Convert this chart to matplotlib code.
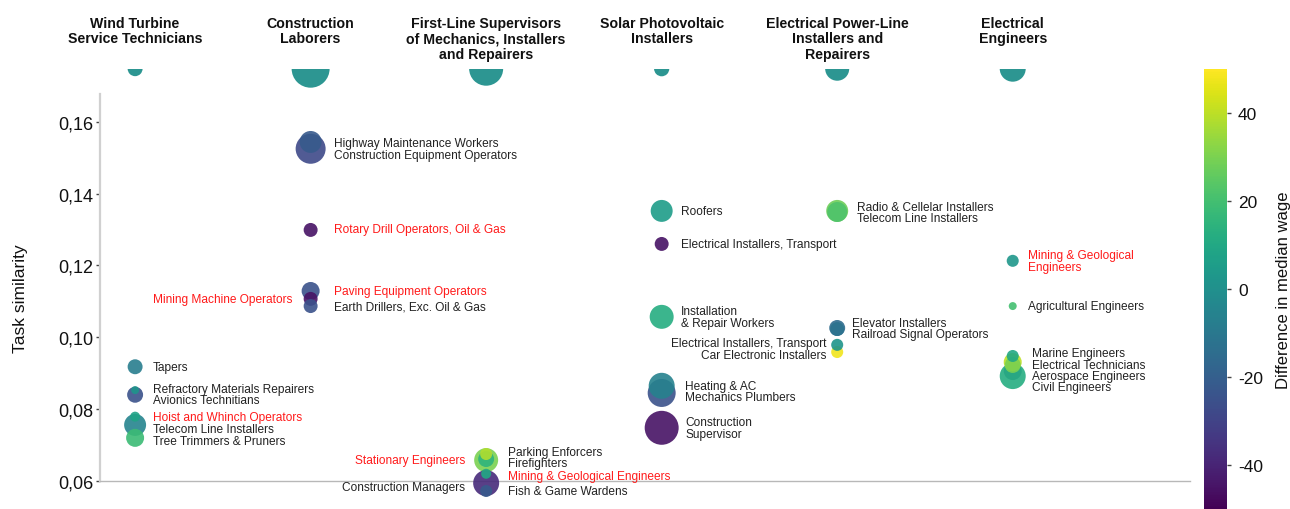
import matplotlib
matplotlib.use("Agg")
import matplotlib.pyplot as plt
import matplotlib.transforms as mtransforms
from matplotlib import cm, colors
from matplotlib.ticker import FuncFormatter

plt.rcParams["font.family"] = ["Liberation Sans", "DejaVu Sans"]
plt.rcParams["axes.unicode_minus"] = False

# Source occupations (column headers), their own bubble size
source_jobs = [
    "Wind Turbine\nService Technicians",
    "Construction\nLaborers",
    "First-Line Supervisors\nof Mechanics, Installers\nand Repairers",
    "Solar Photovoltaic\nInstallers",
    "Electrical Power-Line\nInstallers and\nRepairers",
    "Electrical\nEngineers",
]
source_size = [116, 748, 600, 120, 300, 350]
source_wage_diff = [0, 0, 0, 0, 0, 0]

# Target occupations (in drawing order): column index, task similarity,
# wage difference, bubble size
target_col = [0, 0, 0, 0, 0, 0,
              1, 1, 1, 1, 1, 1,
              2, 2, 2, 2, 2, 2,
              3, 3, 3, 3, 3, 3,
              4, 4, 4, 4, 4, 4,
              5, 5, 5, 5, 5, 5, 5]
target_names = ["Tapers", "Avionics Technitians", "Refractory Materials Repairers",
                "Telecom Line Installers", "Tree Trimmers & Pruners", "Hoist and Whinch Operators",
                "Construction Equipment Operators", "Highway Maintenance Workers",
                "Rotary Drill Operators, Oil & Gas", "Paving Equipment Operators",
                "Mining Machine Operators", "Earth Drillers, Exc. Oil & Gas",
                "Stationary Engineers", "Construction Managers", "Firefighters",
                "Parking Enforcers", "Mining & Geological Engineers", "Fish & Game Wardens",
                "Roofers", "Electrical Installers, Transport", "Installation\n& Repair Workers",
                "Mechanics Plumbers", "Heating & AC", "Construction\nSupervisor",
                "Radio & Cellelar Installers", "Telecom Line Installers", "Elevator Installers",
                "Railroad Signal Operators", "Car Electronic Installers", "Electrical Installers, Transport",
                "Mining & Geological\nEngineers", "Agricultural Engineers", "Aerospace Engineers",
                "Civil Engineers", "Electrical Technicians", "", "Marine Engineers"]
target_similarity = [0.0918, 0.0840, 0.0853, 0.0756, 0.0720, 0.0779,
                     0.1525, 0.1544, 0.1299, 0.1129, 0.1107, 0.1087,
                     0.0658, 0.0594, 0.0661, 0.0675, 0.0620, 0.0572,
                     0.1352, 0.1260, 0.1057, 0.0845, 0.0865, 0.0748,
                     0.1352, 0.1349, 0.1026, 0.1023, 0.0959, 0.0979,
                     0.1213, 0.1087, 0.0906, 0.0892, 0.0931, 0.0923, 0.0948]
target_wage_diff = [-8, -25, 2, -5, 18, 8,
                    -28, -22, -45, -25, -45, -25,
                    30, -38, 15, 38, 10, -22,
                    5, -45, 12, -25, -6, -45,
                    28, 22, -15, -12, 48, 2,
                    3, 20, -15, 12, 40, 30, 10]
target_size = [116, 132, 33, 250, 168, 52,
               466, 250, 101, 168, 101, 101,
               298, 350, 132, 75, 52, 75,
               250, 101, 298, 406, 350, 598,
               250, 207, 132, 101, 75, 75,
               75, 33, 168, 350, 168, 132, 75]
highlighted = {"Hoist and Whinch Operators", "Rotary Drill Operators, Oil & Gas",
               "Paving Equipment Operators", "Mining Machine Operators",
               "Stationary Engineers", "Mining & Geological Engineers",
               "Mining & Geological\nEngineers"}

y_ticks = [0.06, 0.08, 0.10, 0.12, 0.14, 0.16]
cbar_ticks = [-40, -20, 0, 20, 40]

# Label placement: offset from bubble centre in points (dx, dy)
label_offsets = [(13, 0), (13, -3.6), (13, 0.7), (13, -2.9), (13, -2.2), (13, 0),
                 (17, -4.3), (17, -0.7), (17, 0.7), (17, 0), (-13, 0), (17, 0),
                 (-15, 0), (-15, -2.9), (16, -2.9), (16, 1.4), (16, -1.4), (16, 0),
                 (14, 0), (14, 0), (14, 0), (17, -2.9), (17, 0), (17, 0),
                 (14, 2.9), (14, -4.3), (11, 3.6), (11, -3.6), (-8, -2.2), (-8, 1.4),
                 (11, 0), (11, 0), (14, -3.6), (14, -7.9), (14, -2.2), (0, 0), (14, 2.2)]

fig = plt.figure(figsize=(12.9, 5.1), dpi=100)
ax = fig.add_axes([100 / 1290, 8.3 / 510, 1090 / 1290, 432 / 510])

cmap = matplotlib.colormaps["viridis"]
norm = colors.Normalize(vmin=-50, vmax=50)

ax.set_xlim(-0.2, 6.01)
ax.set_ylim(0.0545, 0.1748)

# Source occupations sit on the top edge of the plot
ax.scatter(range(len(source_jobs)), [0.1748] * len(source_jobs), s=source_size,
           c=source_wage_diff, cmap=cmap, norm=norm, linewidths=0, alpha=0.95, zorder=3)

ax.scatter(target_col, target_similarity, s=target_size, c=target_wage_diff,
           cmap=cmap, norm=norm, linewidths=0, alpha=0.9, zorder=3)

for xc, yv, name, (dx, dy) in zip(target_col, target_similarity, target_names, label_offsets):
    if not name:
        continue
    ax.annotate(name, (xc, yv), xytext=(dx, dy), textcoords="offset points",
                ha="left" if dx > 0 else "right", va="center", fontsize=8.6,
                linespacing=0.95, color="#ff1a1a" if name in highlighted else "#222222",
                zorder=4, annotation_clip=False)

# Column headers above the plot
trans = mtransforms.blended_transform_factory(ax.transData, fig.transFigure)
for i, job in enumerate(source_jobs):
    ax.text(i, 1 - 17 / 510, job, transform=trans, ha="center", va="top",
            fontsize=10.2, fontweight="bold", linespacing=1.13, color="#111111")

for side in ("top", "right"):
    ax.spines[side].set_visible(False)
ax.spines["left"].set_color("#d0d0d0")
ax.spines["left"].set_linewidth(1.6)
ax.spines["left"].set_bounds(0.06, 0.1678)
ax.spines["bottom"].set_position(("data", 0.06))
ax.spines["bottom"].set_color("#b8b8b8")
ax.spines["bottom"].set_linewidth(1.0)
ax.set_xticks([])
ax.set_yticks(y_ticks)
ax.yaxis.set_major_formatter(FuncFormatter(lambda v, p: f"{v:.2f}".replace(".", ",")))
ax.tick_params(axis="y", length=3, width=1, color="#444444", labelsize=13,
               labelcolor="#111111", pad=2)
ax.set_ylabel("Task similarity", fontsize=12.5, color="#111111")
ax.yaxis.set_label_coords(-0.066, 0.47)

cax = fig.add_axes([1204 / 1290, 0, 23 / 1290, 440 / 510])
cb = fig.colorbar(cm.ScalarMappable(norm=norm, cmap=cmap), cax=cax)
cb.outline.set_visible(False)
cb.set_ticks(cbar_ticks)
cb.ax.tick_params(length=3, width=1, color="#444444", labelsize=12.5,
                  labelcolor="#111111", pad=5)
cb.set_label("Difference in median wage", fontsize=12, color="#111111")
cb.ax.yaxis.set_label_coords(3.15, 0.5)

fig.savefig("out.png", dpi=100)
